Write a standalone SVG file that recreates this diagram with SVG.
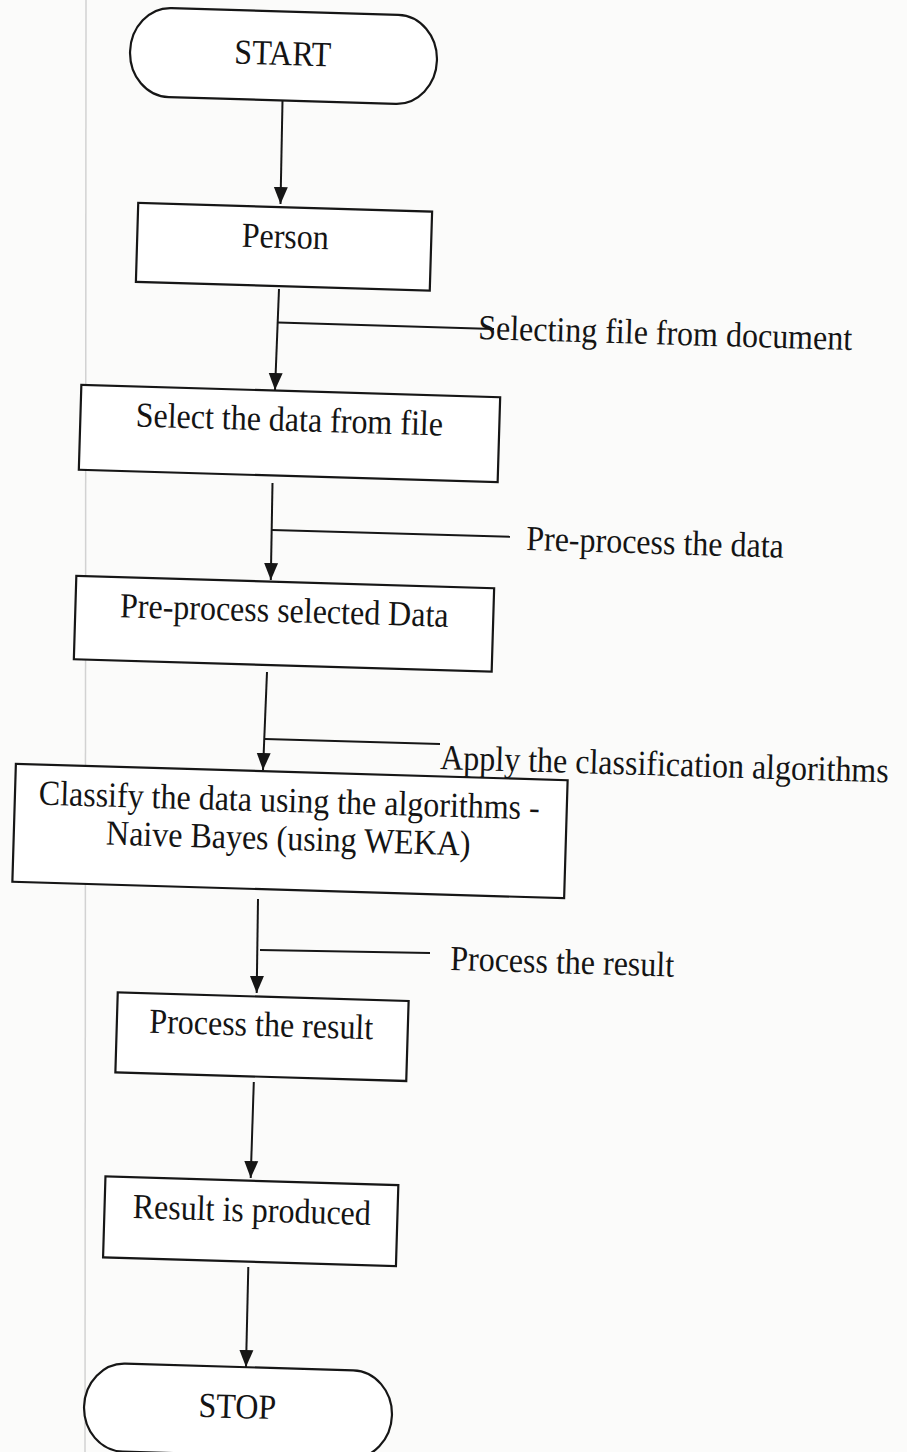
<svg xmlns="http://www.w3.org/2000/svg" width="907" height="1452" viewBox="0 0 907 1452">
  <style>
    .box { fill: #ffffff; stroke: #161616; stroke-width: 2.2; }
    .conn { stroke: #161616; stroke-width: 2; fill: none; }
    .arrow { marker-end: url(#ah); }
    .t { font-family: "Liberation Serif", "Times New Roman", serif; font-size: 32px; fill: #141414; }
    .c { text-anchor: middle; }
    .s { text-anchor: start; }
  </style>
  <defs>
    <marker id="ah" markerUnits="userSpaceOnUse" markerWidth="18" markerHeight="16" viewBox="0 0 18 16" refX="17" refY="8" orient="auto">
      <path d="M0,1 L17,8 L0,15 z" fill="#161616"/>
    </marker>
  </defs>

  <rect x="0" y="0" width="907" height="1452" fill="#fbfbfa"/>
  <line x1="86" y1="0" x2="85" y2="1452" stroke="#d2d2d2" stroke-width="1.5"/>

  <g id="connectors">
    <line class="conn arrow" x1="282.5" y1="101" x2="280.5" y2="204"/>
    <line class="conn arrow" x1="279" y1="289" x2="275" y2="390"/>
    <line class="conn arrow" x1="272.5" y1="483" x2="270.8" y2="580"/>
    <line class="conn arrow" x1="267" y1="672" x2="263" y2="770"/>
    <line class="conn arrow" x1="258" y1="899" x2="256.7" y2="993"/>
    <line class="conn arrow" x1="253.8" y1="1082" x2="250.7" y2="1178"/>
    <line class="conn arrow" x1="248.3" y1="1267" x2="246" y2="1367"/>
    <line class="conn" x1="278" y1="322.5" x2="494" y2="329"/>
    <line class="conn" x1="272" y1="530" x2="510" y2="536.7"/>
    <line class="conn" x1="265" y1="739" x2="440" y2="744"/>
    <line class="conn" x1="260" y1="950" x2="430" y2="953"/>
  </g>

  <g id="start">
    <rect class="box" x="130" y="11.5" width="307" height="89" rx="40" ry="44.5" transform="rotate(1.7 283.5 56)"/>
    <text class="t c" transform="translate(282.5 65) rotate(1.7) scale(1 1.1)">START</text>
  </g>

  <g id="person">
    <rect class="box" x="137" y="207.2" width="294" height="79" transform="rotate(1.7 284 246.7)"/>
    <text class="t c" transform="translate(285 248) rotate(1.7) scale(1 1.1)">Person</text>
  </g>

  <g id="label-selecting">
    <text class="t s" transform="translate(478 339) rotate(1.7) scale(1 1.1)">Selecting file from document</text>
  </g>

  <g id="select">
    <rect class="box" x="80" y="391" width="419" height="85" transform="rotate(1.7 289.5 433.5)"/>
    <text class="t c" transform="translate(289 431) rotate(1.7) scale(1 1.1)">Select the data from file</text>
  </g>

  <g id="label-preprocess">
    <text class="t s" transform="translate(526 550) rotate(1.7) scale(1 1.1)">Pre-process the data</text>
  </g>

  <g id="preprocess">
    <rect class="box" x="75" y="582" width="418" height="83.5" transform="rotate(1.7 284 623.7)"/>
    <text class="t c" transform="translate(284 622) rotate(1.7) scale(1 1.1)">Pre-process selected Data</text>
  </g>

  <g id="label-apply">
    <text class="t s" transform="translate(440 769) rotate(1.7) scale(1 1.1)">Apply the classification algorithms</text>
  </g>

  <g id="classify">
    <rect class="box" x="14" y="772" width="552" height="118" transform="rotate(1.7 290 831)"/>
    <text class="t c" transform="translate(289 812) rotate(1.7) scale(1 1.1)">Classify the data using the algorithms -</text>
    <text class="t c" transform="translate(288 850) rotate(1.7) scale(1 1.1)">Naive Bayes (using WEKA)</text>
  </g>

  <g id="label-process">
    <text class="t s" transform="translate(450 970) rotate(1.7) scale(1 1.1)">Process the result</text>
  </g>

  <g id="process">
    <rect class="box" x="116.5" y="996.7" width="291" height="80" transform="rotate(1.7 262 1036.7)"/>
    <text class="t c" transform="translate(261 1036) rotate(1.7) scale(1 1.1)">Process the result</text>
  </g>

  <g id="result">
    <rect class="box" x="104.2" y="1180.8" width="293" height="81" transform="rotate(1.7 250.7 1221.3)"/>
    <text class="t c" transform="translate(251.5 1221.5) rotate(1.7) scale(1 1.1)">Result is produced</text>
  </g>

  <g id="stop">
    <rect class="box" x="84" y="1367" width="308" height="88" rx="40" ry="44" transform="rotate(1.7 238 1411)"/>
    <text class="t c" transform="translate(237 1418) rotate(1.7) scale(1 1.1)">STOP</text>
  </g>
</svg>
